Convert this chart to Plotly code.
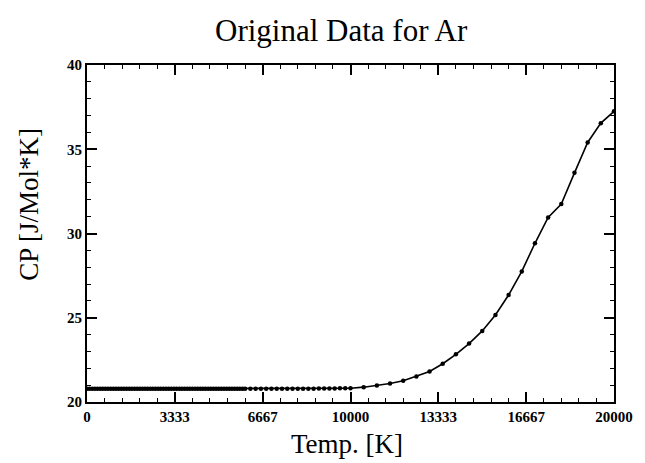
import plotly.graph_objects as go

# Temperatures [K]
temp_low = [0, 100, 200, 300, 400, 500, 600, 700, 800, 900, 1000, 1100, 1200, 1300, 1400, 1500,
            1600, 1700, 1800, 1900, 2000, 2100, 2200, 2300, 2400, 2500, 2600, 2700, 2800, 2900,
            3000, 3100, 3200, 3300, 3400, 3500, 3600, 3700, 3800, 3900, 4000, 4100, 4200, 4300,
            4400, 4500, 4600, 4700, 4800, 4900, 5000, 5100, 5200, 5300, 5400, 5500, 5600, 5700,
            5800, 5900, 6000, 6200, 6400, 6600, 6800, 7000, 7200, 7400, 7600, 7800, 8000, 8200,
            8400, 8600, 8800, 9000, 9200, 9400, 9600, 9800, 10000]
cp_low = [20.79, 20.79, 20.79, 20.79, 20.79, 20.79, 20.79, 20.79, 20.79, 20.79, 20.79, 20.79,
          20.79, 20.79, 20.79, 20.79, 20.79, 20.79, 20.79, 20.79, 20.79, 20.79, 20.79, 20.79,
          20.79, 20.79, 20.79, 20.79, 20.79, 20.79, 20.79, 20.79, 20.79, 20.79, 20.79, 20.79,
          20.79, 20.79, 20.79, 20.79, 20.79, 20.79, 20.79, 20.79, 20.79, 20.79, 20.79, 20.79,
          20.79, 20.79, 20.79, 20.79, 20.79, 20.79, 20.79, 20.79, 20.79, 20.79, 20.79, 20.79,
          20.79, 20.79, 20.79, 20.79, 20.79, 20.79, 20.79, 20.79, 20.79, 20.79, 20.79, 20.79,
          20.79, 20.79, 20.80, 20.80, 20.80, 20.80, 20.81, 20.81, 20.82]
temp_high = [10500, 11000, 11500, 12000, 12500, 13000, 13500, 14000, 14500, 15000, 15500,
             16000, 16500, 17000, 17500, 18000, 18500, 19000, 19500, 20000]
cp_high = [20.88, 20.98, 21.10, 21.26, 21.52, 21.81, 22.27, 22.83, 23.47, 24.22, 25.16,
           26.35, 27.75, 29.42, 30.95, 31.75, 33.60, 35.40, 36.55, 37.25]

x_tick_vals = [0, 3333.33, 6666.67, 10000, 13333.33, 16666.67, 20000]
x_tick_text = ["0", "3333", "6667", "10000", "13333", "16667", "20000"]
y_tick_vals = [20, 25, 30, 35, 40]

temps = temp_low + temp_high
cps = cp_low + cp_high

serif = "Liberation Serif, Times New Roman, serif"

fig = go.Figure()
fig.add_trace(go.Scatter(
    x=temps, y=cps, mode="lines+markers",
    line=dict(color="black", width=1.6),
    marker=dict(color="black", size=4.5, symbol="circle"),
    showlegend=False,
))

axis_common = dict(
    showgrid=False, zeroline=False, showline=True, linecolor="black", linewidth=2,
    mirror="ticks", ticks="inside", ticklen=10, tickwidth=1.5, tickcolor="black",
    tickfont=dict(family=serif, size=15, color="black", weight="bold"),
)

fig.update_xaxes(
    range=[0, 20000], tickmode="array", tickvals=x_tick_vals, ticktext=x_tick_text,
    minor=dict(tickmode="linear", tick0=0, dtick=20000 / 30, ticks="inside", ticklen=4,
               tickwidth=1.2, tickcolor="black"),
    **axis_common,
)
fig.update_yaxes(
    range=[20, 40], tickmode="array", tickvals=y_tick_vals,
    minor=dict(tickmode="linear", tick0=20, dtick=1, ticks="inside", ticklen=4,
               tickwidth=1.2, tickcolor="black"),
    **axis_common,
)

fig.update_layout(
    width=645, height=463,
    margin=dict(l=87, r=24, t=65, b=61),
    paper_bgcolor="white", plot_bgcolor="white",
    annotations=[
        dict(text="Original Data for Ar", xref="paper", yref="paper", x=(345 - 87) / 534,
             y=1 + (65 - 30) / 337, xanchor="center", yanchor="middle", showarrow=False,
             font=dict(family=serif, size=31, color="black")),
        dict(text="Temp. [K]", xref="paper", yref="paper", x=(350 - 87) / 534,
             y=-(444 - 402) / 337, xanchor="center", yanchor="middle", showarrow=False,
             font=dict(family=serif, size=27, color="black")),
        dict(text="CP [J/Mol*K]", xref="paper", yref="paper", x=-(87 - 28) / 534,
             y=(402 - 204) / 337, xanchor="center", yanchor="middle", showarrow=False,
             textangle=-90, font=dict(family=serif, size=27, color="black")),
    ],
)

fig.write_html("out.html")
